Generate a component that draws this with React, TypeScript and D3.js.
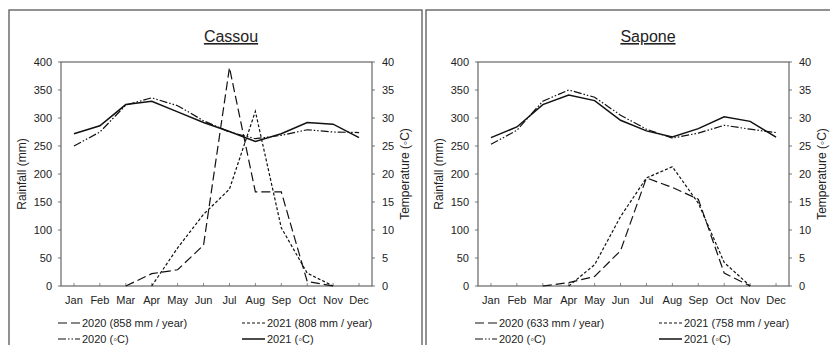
import React from "react";
import * as d3 from "d3";

const months = ["Jan", "Feb", "Mar", "Apr", "May", "Jun", "Jul", "Aug", "Sep", "Oct", "Nov", "Dec"];
const rainTicks = [0, 50, 100, 150, 200, 250, 300, 350, 400];
const tempTicks = [0, 5, 10, 15, 20, 25, 30, 35, 40];

type V = number | null;
// Cassou
const cassouRain2020: V[] = [null, null, 0, 22, 29, 73, 390, 168, 168, 8, 0, null];
const cassouRain2021: V[] = [null, null, null, 0, 68, 128, 173, 312, 104, 23, 0, null];
const cassouTemp2020: V[] = [25.0, 27.5, 32.3, 33.6, 32.2, 29.5, 27.5, 26.3, 26.9, 27.9, 27.5, 27.4];
const cassouTemp2021: V[] = [27.2, 28.6, 32.4, 33.0, 31.1, 29.2, 27.6, 25.8, 27.2, 29.2, 28.9, 26.5];
// Sapone
const saponeRain2020: V[] = [null, null, 0, 6, 17, 63, 193, 176, 155, 23, 0, null];
const saponeRain2021: V[] = [null, null, null, 0, 38, 124, 193, 213, 148, 42, 0, null];
const saponeTemp2020: V[] = [25.3, 27.8, 33.0, 35.0, 33.7, 30.5, 28.0, 26.4, 27.3, 28.7, 28.0, 27.4];
const saponeTemp2021: V[] = [26.5, 28.4, 32.4, 34.1, 33.1, 29.6, 27.7, 26.6, 28.1, 30.2, 29.4, 26.6];

const FONT = "'Liberation Sans', Arial, sans-serif";
const DASH_R20 = "9,4";
const DASH_R21 = "3,2";
const DASH_T20 = "8,2,1.5,2,1.5,2";

interface PanelProps {
  ox: number;
  title: string;
  rain2020: V[];
  rain2021: V[];
  temp2020: V[];
  temp2021: V[];
  leg2020: string;
  leg2021: string;
}

function Panel({ ox, title, rain2020, rain2021, temp2020, temp2021, leg2020, leg2021 }: PanelProps) {
  const bx = 9;
  const pl = 61, pr = 372, pt = 62, pb = 286;
  const x = d3.scalePoint<string>().domain(months).range([pl, pr]).padding(0.5);
  const yR = d3.scaleLinear().domain([0, 400]).range([pb, pt]);
  const yT = d3.scaleLinear().domain([0, 40]).range([pb, pt]);
  const lineR = d3
    .line<V>()
    .defined((d) => d !== null)
    .x((_, i) => x(months[i]) as number)
    .y((d) => yR(d as number));
  const lineT = d3
    .line<V>()
    .defined((d) => d !== null)
    .x((_, i) => x(months[i]) as number)
    .y((d) => yT(d as number));
  const txt = "#222";
  return (
    <g transform={`translate(${ox},0)`} fontFamily={FONT}>
      <rect x={bx} y={10} width={413} height={400} fill="#fff" stroke="#6e6e6e" strokeWidth={1.5} />
      <text x={231} y={42} textAnchor="middle" fontSize={16} fill={txt} textDecoration="underline">
        {title}
      </text>
      {rainTicks.map((t) => (
        <g key={"r" + t}>
          <line x1={pl - 3} x2={pl} y1={yR(t)} y2={yR(t)} stroke="#777" />
          <text x={pl - 9} y={yR(t) + 4} textAnchor="end" fontSize={11} fill={txt}>
            {t}
          </text>
        </g>
      ))}
      {tempTicks.map((t) => (
        <g key={"t" + t}>
          <line x1={pr} x2={pr + 3} y1={yT(t)} y2={yT(t)} stroke="#777" />
          <text x={pr + 10} y={yT(t) + 4} textAnchor="start" fontSize={11} fill={txt}>
            {t}
          </text>
        </g>
      ))}
      {months.map((m) => (
        <g key={m}>
          <line x1={x(m)} x2={x(m)} y1={pb} y2={pb - 3} stroke="#888" />
          <text x={x(m)} y={304} textAnchor="middle" fontSize={11} fill={txt}>
            {m}
          </text>
        </g>
      ))}
      <rect x={pl} y={pt} width={pr - pl} height={pb - pt} fill="none" stroke="#666" strokeWidth={1.2} />
      <text transform={`translate(${26},${174}) rotate(-90)`} textAnchor="middle" fontSize={12} fill={txt}>
        Rainfall (mm)
      </text>
      <text transform={`translate(${409},${174}) rotate(-90)`} textAnchor="middle" fontSize={12} fill={txt}>
        Temperature (◦C)
      </text>
      <path d={lineT(temp2020) || ""} fill="none" stroke="#111" strokeWidth={1.2} strokeDasharray={DASH_T20} />
      <path d={lineT(temp2021) || ""} fill="none" stroke="#111" strokeWidth={1.5} />
      <path d={lineR(rain2020) || ""} fill="none" stroke="#111" strokeWidth={1.2} strokeDasharray={DASH_R20} />
      <path d={lineR(rain2021) || ""} fill="none" stroke="#111" strokeWidth={1.2} strokeDasharray={DASH_R21} />
      <line x1={58} x2={80} y1={323} y2={323} stroke="#111" strokeWidth={1.2} strokeDasharray={DASH_R20} />
      <text x={82} y={327} fontSize={11} fill={txt}>{leg2020}</text>
      <line x1={242} x2={265} y1={323} y2={323} stroke="#111" strokeWidth={1.2} strokeDasharray={DASH_R21} />
      <text x={267} y={327} fontSize={11} fill={txt}>{leg2021}</text>
      <line x1={58} x2={80} y1={339} y2={339} stroke="#111" strokeWidth={1.2} strokeDasharray={DASH_T20} />
      <text x={82} y={343} fontSize={11} fill={txt}>2020 (◦C)</text>
      <line x1={242} x2={265} y1={339} y2={339} stroke="#111" strokeWidth={1.5} />
      <text x={267} y={343} fontSize={11} fill={txt}>2021 (◦C)</text>
    </g>
  );
}

export default function App() {
  return (
    <svg
      width={830}
      height={345}
      style={{ position: "absolute", left: 0, top: 0, background: "#fff" }}
    >
      <rect x={0} y={0} width={830} height={345} fill="#fff" />
      <Panel
        ox={0}
        title="Cassou"
        rain2020={cassouRain2020}
        rain2021={cassouRain2021}
        temp2020={cassouTemp2020}
        temp2021={cassouTemp2021}
        leg2020="2020 (858 mm / year)"
        leg2021="2021 (808 mm / year)"
      />
      <Panel
        ox={417}
        title="Sapone"
        rain2020={saponeRain2020}
        rain2021={saponeRain2021}
        temp2020={saponeTemp2020}
        temp2021={saponeTemp2021}
        leg2020="2020 (633 mm / year)"
        leg2021="2021 (758 mm / year)"
      />
    </svg>
  );
}
